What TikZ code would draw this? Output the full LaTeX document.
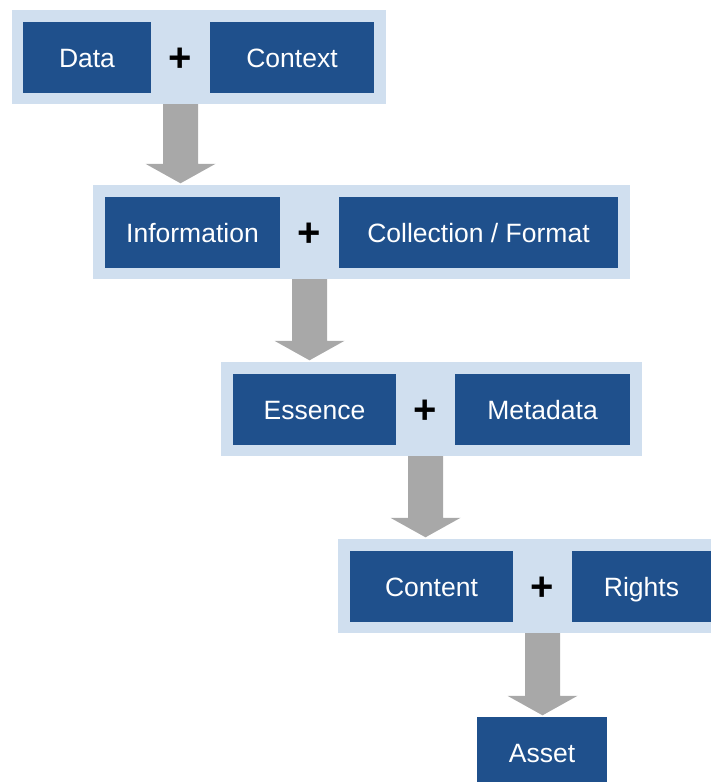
\documentclass[tikz,border=0pt]{standalone}
\usepackage{fontspec}
\setmainfont{Liberation Sans}
\usetikzlibrary{calc}
\definecolor{panelblue}{RGB}{208,223,239}
\definecolor{boxblue}{RGB}{31,80,140}
\definecolor{arrowgray}{RGB}{168,168,168}
\tikzset{
  panel/.style={fill=panelblue, draw=none, inner sep=0pt, minimum height=94pt},
  block/.style={fill=boxblue, draw=none, inner sep=0pt, minimum height=71pt,
    text=white, font=\fontsize{26.5}{30}\selectfont, text height=19pt, text depth=0pt},
  plussign/.style={inner sep=0pt, font=\fontsize{40}{44}\selectfont\bfseries, text=black}
}
% Block arrow from the bottom of one panel to the top of the next, under a plus sign
\newcommand\flowarrow[3]{%
  \fill[arrowgray]
    ($(#1 |- #2.south)+(-17.5,0)$) -- ($(#1 |- #2.south)+(17.5,0)$)
    -- ($(#1 |- #3.north)+(17.5,-21)$) -- ($(#1 |- #3.north)+(35,-21)$)
    -- ($(#1 |- #3.north)+(0,-1.5)$)
    -- ($(#1 |- #3.north)+(-35,-21)$) -- ($(#1 |- #3.north)+(-17.5,-21)$) -- cycle;}
\begin{document}
\begin{tikzpicture}[x=1pt,y=-1pt]
\useasboundingbox[fill=white] (0,0) rectangle (711,782);

% row 1
\node[panel, minimum width=374pt] (p1) at (199,57) {};
\node[block, minimum width=128pt] (data) at (87,57.5) {Data};
\node[block, minimum width=164pt] (context) at (292,57.5) {Context};
\node[plussign] (plus1) at (180.5,60) {+};

% row 2
\node[panel, minimum width=537pt] (p2) at (361.5,232) {};
\node[block, minimum width=175pt] (information) at (192.5,232.5) {Information};
\node[block, minimum width=279pt] (collection) at (478.5,232.5) {Collection / Format};
\node[plussign] (plus2) at (309.5,235) {+};

% row 3
\node[panel, minimum width=421pt] (p3) at (431.5,409) {};
\node[block, minimum width=163pt] (essence) at (314.5,409.5) {Essence};
\node[block, minimum width=175pt] (metadata) at (542.5,409.5) {Metadata};
\node[plussign] (plus3) at (425.5,412) {+};

% row 4
\node[panel, minimum width=384pt] (p4) at (530,586) {};
\node[block, minimum width=163pt] (content) at (431.5,586.5) {Content};
\node[block, minimum width=139pt] (rights) at (641.5,586.5) {Rights};
\node[plussign] (plus4) at (542.5,589) {+};

% result
\node[block, minimum width=130pt] (asset) at (542,752.5) {Asset};

% arrows between the rows
\flowarrow{plus1}{p1}{p2}
\flowarrow{plus2}{p2}{p3}
\flowarrow{plus3}{p3}{p4}
\flowarrow{plus4}{p4}{asset}
\end{tikzpicture}
\end{document}
